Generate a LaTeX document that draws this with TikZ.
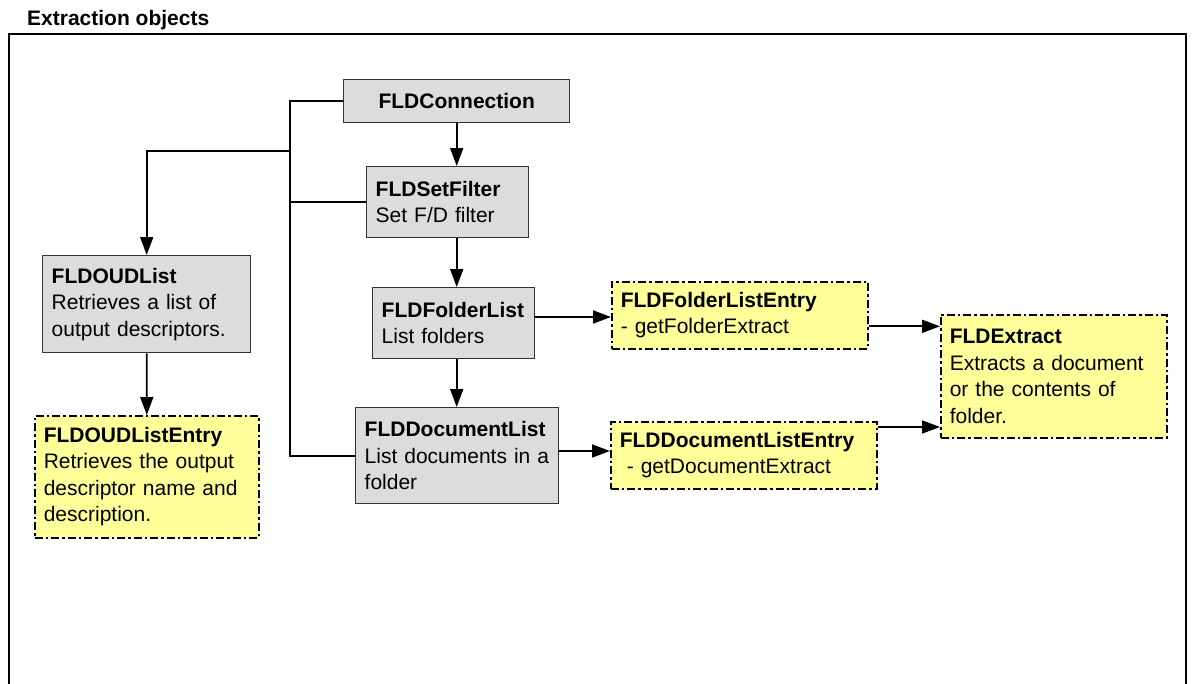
\documentclass[tikz,border=0pt]{standalone}
\usepackage{fontspec}
\setmainfont{Liberation Sans}
\usetikzlibrary{arrows.meta,calc}

\definecolor{boxgray}{HTML}{DCDCDC}
\definecolor{boxyellow}{HTML}{FFFF99}
\definecolor{edgegray}{HTML}{333333}

\tikzset{
  objbox/.style={draw=edgegray, line width=1.4pt, fill=boxgray, anchor=north west,
    inner xsep=9pt, inner ysep=0pt, align=left,
    font=\fontsize{21}{26.5}\selectfont},
  entrybox/.style={objbox, draw=black, fill=boxyellow, line width=1.6pt,
    dash pattern=on 8pt off 3pt on 2.5pt off 3pt},
  link/.style={line width=1.7pt, draw=black},
  arrowlink/.style={link, -{Triangle[length=18pt,width=13pt]}},
}

\begin{document}
\begin{tikzpicture}[x=1pt, y=-1pt]
  \useasboundingbox (0,0) rectangle (1193,683);

  % heading and enclosing frame
  \node[anchor=base west, inner sep=0pt, font=\fontsize{21}{25}\selectfont\bfseries]
    (title) at (27,25) {Extraction objects};
  \draw[line width=1.7pt] (9,684) -- (9,34) -- (1186,34) -- (1186,684);

  % objects
  \node[objbox, minimum width=226pt, minimum height=43pt, align=center] (conn) at (343,79)
    {\textbf{FLDConnection}};
  \node[objbox, minimum width=162pt, minimum height=71pt, text width=144pt] (setf) at (366,166)
    {\textbf{FLDSetFilter}\\Set F/D filter};
  \node[objbox, minimum width=208pt, minimum height=97pt, text width=190pt] (oud) at (42,255)
    {\textbf{FLDOUDList}\\Retrieves a list of\\output descriptors.};
  \node[entrybox, minimum width=224pt, minimum height=122pt, text width=206pt] (oude) at (34,415)
    {\textbf{FLDOUDListEntry}\\Retrieves the output\\descriptor name and\\description.};
  \node[objbox, minimum width=162pt, minimum height=71pt, text width=144pt] (fl) at (372,287)
    {\textbf{FLDFolderList}\\List folders};
  \node[objbox, minimum width=203pt, minimum height=96pt, text width=185pt] (dl) at (355,407)
    {\textbf{FLDDocumentList}\\List documents in a\\folder};
  \node[entrybox, minimum width=256pt, minimum height=67pt, text width=238pt] (fle) at (611,281)
    {\textbf{FLDFolderListEntry}\\- getFolderExtract};
  \node[entrybox, minimum width=266pt, minimum height=67pt, text width=248pt] (dle) at (610,421)
    {\textbf{FLDDocumentListEntry}\\\ - getDocumentExtract};
  \node[entrybox, minimum width=226pt, minimum height=123pt, text width=208pt] (ext) at (940,314)
    {\textbf{FLDExtract}\\Extracts a document\\or the contents of\\folder.};

  % branch points and rows of the connectors
  \coordinate (trunk) at (290,0);
  \coordinate (split) at (290,151);
  \coordinate (folderrow) at (0,317);
  \coordinate (docrow) at (0,451);
  \coordinate (fe) at ($(fle.east)+(0,11)$);
  \coordinate (de) at ($(dle.north east)+(0,6)$);

  % trunk from the connection to the lists
  \draw[link] (conn.west) -| (trunk |- dl.west) -- (dl.west);
  \draw[link] (trunk |- setf.west) -- (setf.west);
  \draw[arrowlink] (split) -| (oud.north);

  % vertical flow
  \draw[arrowlink] (conn.south) -- (conn.south |- setf.north);
  \draw[arrowlink] (conn.south |- setf.south) -- (conn.south |- fl.north);
  \draw[arrowlink] (conn.south |- fl.south) -- (conn.south |- dl.north);
  \draw[arrowlink] (oud.south) -- (oude.north);

  % lists to entries, entries to extract
  \draw[arrowlink] (fl.east |- folderrow) -- (fle.west |- folderrow);
  \draw[arrowlink] (dl.east |- docrow) -- (dle.west |- docrow);
  \draw[arrowlink] (fe) -- (fe -| ext.west);
  \draw[arrowlink] (de) -- (de -| ext.west);
\end{tikzpicture}
\end{document}
